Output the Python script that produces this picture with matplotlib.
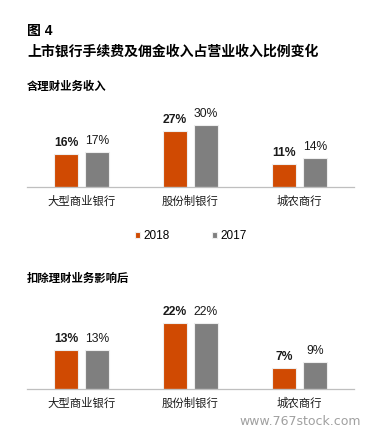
import matplotlib
matplotlib.use("Agg")
import numpy as np
import matplotlib.pyplot as plt

plt.rcParams['font.family'] = ['Liberation Sans', 'Noto Sans CJK SC', 'DejaVu Sans']

# data
categorias = ['大型商业银行', '股份制银行', '城农商行']
anos = ['2018', '2017']
com_wm_2018 = [16, 27, 11]
com_wm_2017 = [17, 30, 14]
sem_wm_2018 = [13, 22, 7]
sem_wm_2017 = [13, 22, 9]

laranja = '#D04A02'
cinza = '#7F7F7F'

W, H = 374, 434
fig = plt.figure(figsize=(W / 100, H / 100), dpi=100)

def painel(base_px, px_por_pct, ymax, v18, v17):
    altura = ymax * px_por_pct
    ax = fig.add_axes([27 / W, (H - base_px) / H, 327 / W, altura / H])
    x = np.arange(len(categorias))
    desloc, larg = 0.142, 0.22
    b1 = ax.bar(x - desloc, v18, larg, color=laranja, edgecolor='#eeeeee', linewidth=0.8, label=anos[0])
    b2 = ax.bar(x + desloc, v17, larg, color=cinza, edgecolor='#eeeeee', linewidth=0.8, label=anos[1])
    for r, v in zip(b1, v18):
        ax.annotate(f'{v}%', (r.get_x() + r.get_width() / 2, v), xytext=(0, 8),
                    textcoords='offset points', ha='center', va='center',
                    fontsize=8.7, fontweight='bold', color='#1a1a1a')
    for r, v in zip(b2, v17):
        ax.annotate(f'{v}%', (r.get_x() + r.get_width() / 2, v), xytext=(0, 8),
                    textcoords='offset points', ha='center', va='center',
                    fontsize=8.7, color='#1a1a1a')
    ax.set_xlim(-0.5, 2.5)
    ax.set_ylim(0, ymax)
    ax.set_xticks(x)
    ax.set_xticklabels(categorias, fontsize=8.2)
    ax.tick_params(axis='x', length=0, pad=6.5, colors='#1a1a1a')
    ax.set_yticks([])
    for s in ['top', 'right', 'left']:
        ax.spines[s].set_visible(False)
    ax.spines['bottom'].set_color('#BFBFBF')
    ax.spines['bottom'].set_linewidth(0.9)
    ax.patch.set_alpha(0)
    return ax

ax1 = painel(186.7, 2.06, 35, com_wm_2018, com_wm_2017)
ax2 = painel(389, 3.0, 26, sem_wm_2018, sem_wm_2017)

leg = ax1.legend(loc='center', bbox_to_anchor=(190.5 / W, 1 - 236 / H),
                 bbox_transform=fig.transFigure, ncol=2, frameon=False,
                 fontsize=8.5, handlelength=0.45, handleheight=0.45,
                 handletextpad=0.25, columnspacing=3.6)

fig.text(27 / W, 1 - 30.7 / H, '图 4', fontsize=10, fontweight='bold', va='center', ha='left')
fig.text(27 / W, 1 - 51.7 / H, '上市银行手续费及佣金收入占营业收入比例变化',
         fontsize=10, fontweight='bold', va='center', ha='left')
fig.text(27 / W, 1 - 86.7 / H, '含理财业务收入', fontsize=8.2, fontweight='bold', va='center', ha='left')
fig.text(27 / W, 1 - 278.3 / H, '扣除理财业务影响后', fontsize=8.2, fontweight='bold', va='center', ha='left')

fig.text(361 / W, 1 - 421.7 / H, 'www.767stock.com', fontsize=9, color='#A0A0A0',
         family='DejaVu Sans', va='center', ha='right')

fig.savefig('out.png', dpi=100)
